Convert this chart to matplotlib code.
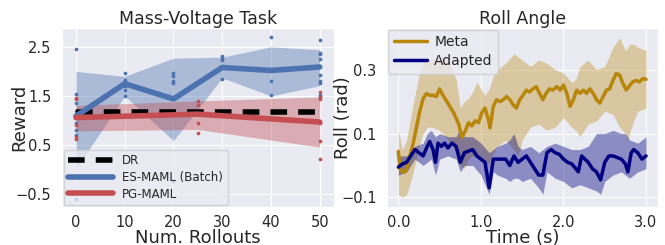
import numpy as np
import matplotlib
matplotlib.use("Agg")
import matplotlib.pyplot as plt
import seaborn as sns

sns.set_style("darkgrid")
plt.rcParams['font.family'] = ['DejaVu Sans']

# ---- left panel: Mass-Voltage Task ----
dr_x = [0, 50]
dr_y = [1.18, 1.18]

es_x = [0, 10, 20, 30, 40, 50]
es_mean = [1.09, 1.75, 1.44, 2.08, 2.02, 2.09]
es_lo = [0.02, 1.50, 0.59, 1.87, 1.50, 1.71]
es_hi = [2.00, 1.90, 2.27, 2.29, 2.50, 2.44]

pg_x = [0, 25, 50]
pg_mean = [1.06, 1.13, 0.97]
pg_lo = [0.79, 0.82, 0.46]
pg_hi = [1.31, 1.40, 1.48]

es_pts = {
    0: [2.46, 1.55, 1.35, 1.05, 0.95, 0.80, 0.70, -0.60],
    10: [1.97, 1.83, 1.70, 1.63, 1.50],
    20: [1.96, 1.91, 1.80, 1.76, -0.24],
    30: [2.32, 2.28, 2.24, 1.85],
    40: [2.70, 1.81, 1.53],
    50: [2.63, 2.38, 2.36, 2.25, 1.93, 1.81, 1.77, 1.53, 1.50],
}
pg_pts = {
    0: [1.46, 1.43, 1.20, 0.90, 0.66, 0.63],
    25: [1.40, 1.31, 0.96, 0.74],
    50: [1.59, 1.47, 1.44, 0.97, 0.95, 0.58, 0.21],
}

# ---- right panel: Roll Angle ----
meta_t = [0.0, 0.02, 0.05, 0.08, 0.10, 0.14, 0.18, 0.22, 0.26, 0.30, 0.34, 0.38,
          0.42, 0.46, 0.50, 0.54, 0.60, 0.67, 0.73, 0.77, 0.81, 0.85, 0.89, 0.93,
          0.97, 1.01, 1.05, 1.09, 1.11, 1.15, 1.19, 1.23, 1.27, 1.31, 1.35, 1.39,
          1.43, 1.47, 1.51, 1.55, 1.59, 1.63, 1.67, 1.71, 1.75, 1.79, 1.83, 1.87,
          1.92, 1.96, 2.00, 2.04, 2.08, 2.12, 2.16, 2.20, 2.24, 2.28, 2.32, 2.36,
          2.40, 2.44, 2.48, 2.52, 2.56, 2.60, 2.64, 2.68, 2.72, 2.76, 2.80, 2.84,
          2.88, 2.92, 2.96, 3.00]
meta_roll = [0.044, -0.01, -0.02, -0.02, -0.01, 0.03, 0.07, 0.12, 0.17, 0.21, 0.225, 0.22,
             0.22, 0.216, 0.24, 0.22, 0.195, 0.165, 0.13, 0.088, 0.108, 0.134, 0.124, 0.14,
             0.134, 0.165, 0.18, 0.144, 0.118, 0.185, 0.206, 0.20, 0.206, 0.216, 0.206, 0.19,
             0.18, 0.206, 0.22, 0.236, 0.23, 0.24, 0.247, 0.226, 0.206, 0.226, 0.24, 0.236,
             0.247, 0.236, 0.252, 0.226, 0.185, 0.206, 0.236, 0.226, 0.236, 0.226, 0.24, 0.226,
             0.206, 0.195, 0.216, 0.236, 0.24, 0.267, 0.288, 0.283, 0.257, 0.236, 0.25, 0.262,
             0.266, 0.262, 0.272, 0.27]

meta_band_t = [0.0, 0.05, 0.10, 0.15, 0.20, 0.25, 0.30, 0.35, 0.40, 0.50, 0.60, 0.70,
               0.75, 0.80, 0.85, 0.90, 0.95, 1.00, 1.05, 1.10, 1.15, 1.20, 1.30, 1.40,
               1.45, 1.50, 1.60, 1.70, 1.80, 1.90, 2.00, 2.10, 2.15, 2.20, 2.30, 2.40,
               2.50, 2.60, 2.68, 2.75, 2.78, 2.80, 2.85, 2.90, 3.00]
meta_hi = [0.11, 0.05, 0.08, 0.15, 0.22, 0.28, 0.33, 0.34, 0.33, 0.34, 0.33, 0.27,
           0.18, 0.20, 0.21, 0.23, 0.26, 0.24, 0.22, 0.24, 0.28, 0.30, 0.32, 0.35,
           0.34, 0.33, 0.31, 0.33, 0.32, 0.30, 0.29, 0.26, 0.27, 0.31, 0.33, 0.30,
           0.31, 0.37, 0.40, 0.36, 0.37, 0.38, 0.38, 0.37, 0.36]
meta_lo = [-0.09, -0.10, -0.09, -0.05, 0.0, 0.06, 0.10, 0.12, 0.12, 0.11, 0.08, 0.05,
           0.0, -0.01, 0.02, 0.03, 0.03, 0.02, 0.0, 0.01, 0.04, 0.06, 0.08, 0.05,
           0.03, 0.08, 0.12, 0.13, 0.11, 0.12, 0.15, 0.12, 0.11, 0.09, 0.13, 0.14,
           0.17, 0.16, 0.12, 0.10, 0.08, 0.10, 0.14, 0.17, 0.18]

adapt_t = [0.0, 0.05, 0.10, 0.15, 0.20, 0.25, 0.30, 0.35, 0.38, 0.42, 0.45, 0.48,
           0.52, 0.56, 0.60, 0.65, 0.70, 0.75, 0.80, 0.85, 0.90, 0.95, 1.00, 1.05,
           1.10, 1.15, 1.20, 1.30, 1.35, 1.40, 1.45, 1.50, 1.55, 1.60, 1.65, 1.70,
           1.75, 1.80, 1.85, 1.90, 1.95, 2.00, 2.05, 2.10, 2.15, 2.18, 2.22, 2.30,
           2.35, 2.40, 2.45, 2.50, 2.55, 2.60, 2.65, 2.70, 2.75, 2.78, 2.82, 2.85,
           2.90, 2.95, 3.00]
adapt_roll = [-0.005, 0.005, 0.01, 0.03, 0.05, 0.04, 0.03, 0.06, 0.075, 0.05, 0.01, 0.07,
              0.06, 0.07, 0.055, 0.07, 0.06, 0.01, 0.04, 0.045, 0.05, 0.03, 0.02, 0.01,
              -0.07, 0.02, 0.02, 0.02, 0.0, 0.03, 0.01, 0.02, 0.03, 0.01, -0.01, -0.03,
              -0.03, 0.04, 0.05, 0.04, 0.035, 0.02, 0.01, 0.005, -0.01, -0.02, 0.03, 0.01,
              -0.01, -0.02, -0.045, 0.01, 0.03, 0.03, 0.025, 0.02, 0.005, -0.02, 0.04, 0.05,
              0.04, 0.02, 0.03]

adapt_band_t = [0.0, 0.10, 0.20, 0.30, 0.35, 0.40, 0.45, 0.50, 0.60, 0.70, 0.75, 0.80,
                0.90, 1.00, 1.10, 1.15, 1.20, 1.30, 1.35, 1.40, 1.45, 1.50, 1.60, 1.70,
                1.75, 1.80, 1.90, 2.00, 2.10, 2.20, 2.30, 2.40, 2.45, 2.50, 2.60, 2.70,
                2.75, 2.80, 2.90, 3.00]
adapt_hi = [0.03, 0.03, 0.06, 0.07, 0.10, 0.11, 0.09, 0.10, 0.09, 0.09, 0.12, 0.09,
            0.09, 0.07, 0.04, 0.05, 0.06, 0.07, 0.08, 0.10, 0.06, 0.05, 0.06, 0.04,
            0.05, 0.06, 0.07, 0.06, 0.05, 0.05, 0.06, 0.10, 0.10, 0.10, 0.11, 0.10,
            0.10, 0.08, 0.07, 0.09]
adapt_lo = [-0.03, -0.02, 0.02, 0.0, 0.01, 0.02, -0.03, 0.02, 0.03, 0.02, -0.02, 0.0,
            0.0, -0.03, -0.09, -0.02, -0.03, -0.04, -0.05, -0.04, -0.04, -0.05, -0.04, -0.07,
            -0.09, -0.02, -0.04, -0.05, -0.07, -0.06, -0.07, -0.08, -0.09, -0.05, -0.03, -0.02,
            -0.03, -0.04, -0.02, -0.01]

blue = "#4C72B0"
red = "#C44E52"
gold = "#B8860B"
navy = "#000080"

fig = plt.figure(figsize=(6.65, 2.45), dpi=100)
ax1 = fig.add_axes([0.093, 0.155, 0.409, 0.73])
ax2 = fig.add_axes([0.582, 0.155, 0.4075, 0.73])

# left
ax1.fill_between(es_x, es_lo, es_hi, color=blue, alpha=0.4, lw=0)
ax1.fill_between(pg_x, pg_lo, pg_hi, color=red, alpha=0.4, lw=0)
for x, ys in es_pts.items():
    ax1.scatter([x] * len(ys), ys, s=7, color=blue, zorder=3, lw=0)
for x, ys in pg_pts.items():
    ax1.scatter([x] * len(ys), ys, s=7, color=red, zorder=3, lw=0)
ax1.plot(dr_x, dr_y, color="black", lw=4, ls=(0, (3, 2)), label="DR", zorder=4)
ax1.plot(es_x, es_mean, color=blue, lw=4, label="ES-MAML (Batch)", zorder=4)
ax1.plot(pg_x, pg_mean, color=red, lw=4, label="PG-MAML", zorder=4)
ax1.set_xlim(-2.9, 52.9)
ax1.set_ylim(-0.76, 2.88)
ax1.set_xticks([0, 10, 20, 30, 40, 50])
ax1.set_yticks([-0.5, 0.5, 1.5, 2.5])
ax1.tick_params(axis="y", labelsize=10.5, pad=4)
ax1.tick_params(axis="x", labelsize=10.5, pad=2)
ax1.set_title("Mass-Voltage Task", fontsize=12.5, pad=3)
ax1.set_xlabel("Num. Rollouts", fontsize=13)
ax1.xaxis.set_label_coords(0.5, -0.122)
ax1.set_ylabel("Reward", fontsize=13)
ax1.yaxis.set_label_coords(-0.125, 0.5)
ax1.legend(loc="lower left", fontsize=8.5, handlelength=3.8, borderaxespad=0.15,
           labelspacing=0.3, handletextpad=0.75)

# right
ax2.fill_between(meta_band_t, meta_lo, meta_hi, color=gold, alpha=0.35, lw=0)
ax2.fill_between(adapt_band_t, adapt_lo, adapt_hi, color=navy, alpha=0.4, lw=0)
ax2.plot(meta_t, meta_roll, color=gold, lw=2.5, label="Meta")
ax2.plot(adapt_t, adapt_roll, color=navy, lw=2.5, label="Adapted")
ax2.set_xlim(-0.137, 3.145)
ax2.set_ylim(-0.13, 0.43)
ax2.set_xticks([0.0, 1.0, 2.0, 3.0])
ax2.set_xticklabels(["0.0", "1.0", "2.0", "3.0"])
ax2.set_yticks([-0.1, 0.1, 0.3])
ax2.set_yticklabels(["\u22120.1", "0.1", "0.3"])
ax2.tick_params(axis="y", labelsize=10.5, pad=4)
ax2.tick_params(axis="x", labelsize=10.5, pad=2)
ax2.set_title("Roll Angle", fontsize=12.5, pad=3)
ax2.set_xlabel("Time (s)", fontsize=13)
ax2.xaxis.set_label_coords(0.5, -0.122)
ax2.set_ylabel("Roll (rad)", fontsize=13)
ax2.yaxis.set_label_coords(-0.13, 0.5)
ax2.legend(loc="upper left", fontsize=10, handlelength=2.4, borderaxespad=0.1,
           handletextpad=0.5, labelspacing=0.35)

fig.savefig("out.png", dpi=100)
